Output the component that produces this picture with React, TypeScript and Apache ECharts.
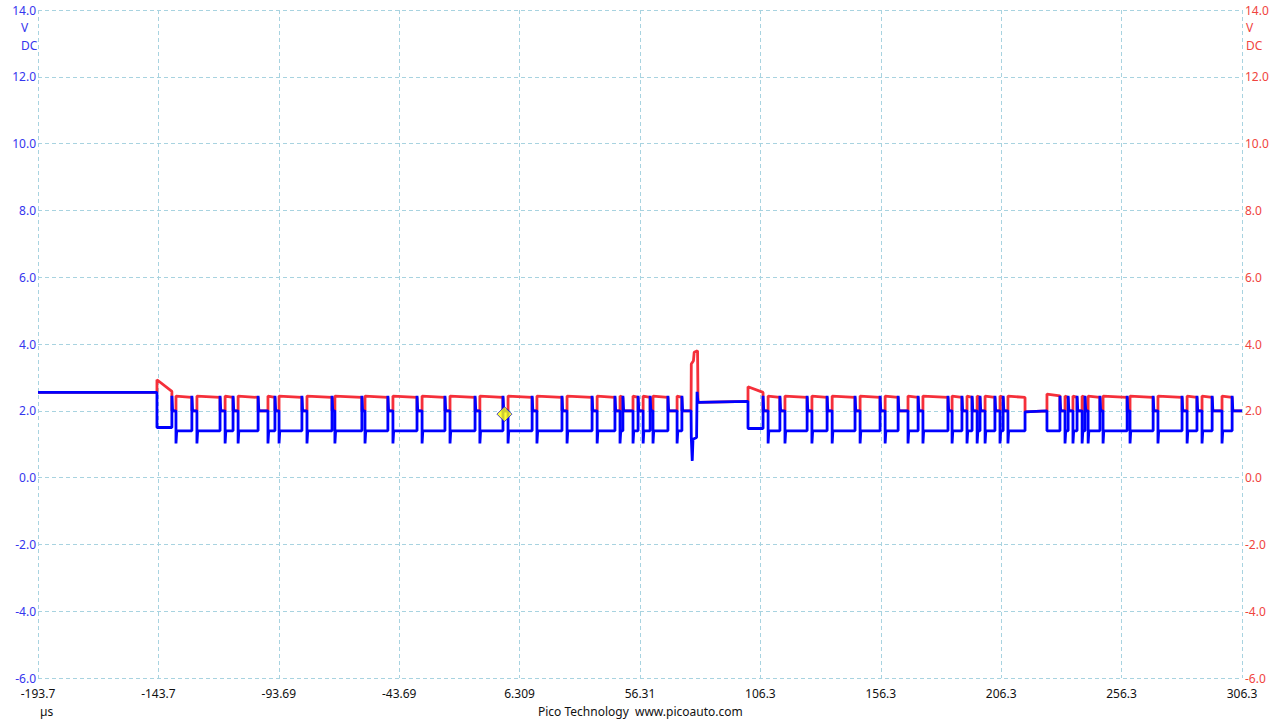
import React, { useEffect, useRef } from "react";
import * as echarts from "echarts";

// ---- axes ----
const T0 = -193.7; // µs at left edge of the screen
const T1 = 306.3; // µs at right edge
const xTickLabels = ["-193.7", "-143.7", "-93.69", "-43.69", "6.309", "56.31", "106.3", "156.3", "206.3", "256.3", "306.3"];
const yMin = -6;
const yMax = 14;
const yStep = 2;

// ---- signal levels (V) ----
const redDominant = [2.44, 2.4]; // start / end of each high stretch
const redRecessive = 2.0;
const blueDominant = 1.4;
const blueRecessive = 2.0;
const blueUpSpike = 2.45;
const blueDownSpike = 1.02;
const spikeWidth = 0.3; // µs

// ---- idle stretches [start µs, end µs, start V, end V] ----
const idle0 = [T0, -144.3, 2.55, 2.55];
const idle1 = [80.4, 101.15, 2.25, 2.28];
const idle2 = [216.2, 225.3, 1.97, 2.0];

// ---- bursts: start/end µs, recessive pulses [start, end] µs ----
const burst1Start = -144.3;
const burst1End = 77.5;
const burst1RedFirst = [2.93, 2.58];
const burst1BlueFirst = 1.5;
const burst1Pulses = [
  [-138.1, -136.4], [-129.8, -127.7], [-118.1, -116.0], [-112.7, -110.6], [-102.3, -98.2],
  [-95.3, -93.6], [-84.1, -82.0], [-71.6, -70.4], [-59.2, -57.9], [-48.4, -46.3],
  [-36.3, -34.2], [-24.7, -22.6], [-12.2, -10.2], [-0.6, 1.5], [11.5, 13.5],
  [23.9, 26.0], [36.4, 38.5], [45.9, 48.0], [49.2, 53.4], [55.5, 57.6],
  [60.5, 61.7], [67.9, 71.7], [73.7, 77.5],
];

const anomalyRed = [[77.5, 2.0], [77.6, 3.4], [78.5, 3.5], [78.8, 3.75], [80.2, 3.8], [80.4, 2.25]];
const anomalyBlue = [[77.5, 2.0], [77.6, 1.2], [78.0, 0.5], [78.3, 1.15], [79.8, 1.2], [80.0, 2.57], [80.4, 2.25]];

const burst2Start = 101.15;
const burst2End = 216.2;
const burst2RedFirst = [2.72, 2.55];
const burst2BlueFirst = 1.47;
const burst2Pulses = [
  [107.4, 109.5], [114.4, 116.5], [125.7, 127.7], [134.0, 136.1], [145.6, 147.7],
  [156.0, 158.1], [163.5, 167.6], [171.8, 173.8], [184.2, 185.9], [190.0, 192.1],
  [194.2, 196.3], [197.5, 199.6], [203.7, 205.8], [207.1, 209.1],
];

const burst3Start = 225.3;
const burst3End = 306.3;
const burst3RedFirst = [2.5, 2.45];
const burst3BlueFirst = 1.4;
const burst3Pulses = [
  [230.7, 232.8], [234.1, 236.1], [237.8, 239.9], [241.1, 242.4], [247.3, 248.6],
  [258.6, 259.8], [269.4, 271.4], [281.4, 283.5], [287.6, 289.7], [293.9, 298.0],
  [302.2, 306.3],
];

// trigger marker
const triggerPoint = [0.0, 1.9];

function buildBurst(start: number, end: number, pulses: number[][], redFirst: number[], blueFirst: number) {
  const red: number[][] = [];
  const blue: number[][] = [];
  let segStart = start;
  let first = true;
  const addDominant = (a: number, b: number) => {
    const r = first ? redFirst : redDominant;
    red.push([a, r[0]], [b, r[1]]);
    if (first) {
      blue.push([a, blueFirst], [b, blueFirst]);
    } else {
      blue.push([a, blueDownSpike], [a + spikeWidth, blueDominant], [b, blueDominant]);
    }
    first = false;
  };
  for (const [a, b] of pulses) {
    addDominant(segStart, a);
    red.push([a, redRecessive], [b, redRecessive]);
    blue.push([a, blueUpSpike], [a + spikeWidth, blueRecessive], [b, blueRecessive]);
    segStart = b;
  }
  if (end > segStart + 1e-6) addDominant(segStart, end);
  return { red, blue };
}

function idlePts(s: number[]) {
  return [[s[0], s[2]], [s[1], s[3]]];
}

function buildTraces() {
  const b1 = buildBurst(burst1Start, burst1End, burst1Pulses, burst1RedFirst, burst1BlueFirst);
  const b2 = buildBurst(burst2Start, burst2End, burst2Pulses, burst2RedFirst, burst2BlueFirst);
  const b3 = buildBurst(burst3Start, burst3End, burst3Pulses, burst3RedFirst, burst3BlueFirst);
  const red = [
    ...idlePts(idle0), ...b1.red, ...anomalyRed, ...idlePts(idle1), ...b2.red, ...idlePts(idle2), ...b3.red,
  ];
  const blue = [
    ...idlePts(idle0), ...b1.blue, ...anomalyBlue, ...idlePts(idle1), ...b2.blue, ...idlePts(idle2), ...b3.blue,
  ];
  const shift = (p: number[]) => [p[0] - T0, p[1]];
  return { red: red.map(shift), blue: blue.map(shift) };
}

const FONT = "'Noto Sans', 'Open Sans', sans-serif";
const LEFT_COLOR = "#3535ee";
const RIGHT_COLOR = "#f04440";
const GRID_COLOR = "#a8d3e0";

export default function App() {
  const ref = useRef<HTMLDivElement>(null);
  useEffect(() => {
    if (!ref.current) return;
    const chart = echarts.init(ref.current, undefined, { renderer: "svg" });
    const { red, blue } = buildTraces();
    const splitLine = { show: true, lineStyle: { color: GRID_COLOR, type: [4, 3] as any, width: 1 } };
    const yCommon = {
      type: "value" as const,
      min: yMin,
      max: yMax,
      interval: yStep,
      axisLine: { show: false },
      axisTick: { show: false },
    };
    chart.setOption({
      animation: false,
      backgroundColor: "#ffffff",
      grid: { left: 38, right: 38, top: 10, bottom: 42, containLabel: false },
      xAxis: {
        type: "value",
        min: 0,
        max: T1 - T0,
        interval: 50,
        axisLine: { show: false },
        axisTick: { show: false },
        splitLine,
        axisLabel: {
          color: "#111",
          fontFamily: FONT,
          fontSize: 12,
          margin: 9,
          showMinLabel: true,
          showMaxLabel: true,
          formatter: (v: number) => xTickLabels[Math.round(v / 50)] ?? "",
        },
      },
      yAxis: [
        {
          ...yCommon,
          position: "left",
          splitLine,
          axisLabel: { color: LEFT_COLOR, fontFamily: FONT, fontSize: 12, margin: 2, formatter: (v: number) => v.toFixed(1) },
        },
        {
          ...yCommon,
          position: "right",
          splitLine: { show: false },
          axisLabel: { color: RIGHT_COLOR, fontFamily: FONT, fontSize: 12, margin: 3, formatter: (v: number) => v.toFixed(1) },
        },
      ],
      series: [
        {
          type: "line",
          data: red,
          showSymbol: false,
          symbol: "none",
          yAxisIndex: 1,
          lineStyle: { color: "#f52f3a", width: 2.8 },
          z: 2,
        },
        {
          type: "line",
          data: blue,
          showSymbol: false,
          symbol: "none",
          yAxisIndex: 0,
          lineStyle: { color: "#0000ff", width: 2.8 },
          z: 3,
        },
        {
          type: "scatter",
          data: [[triggerPoint[0] - T0, triggerPoint[1]]],
          symbol: "diamond",
          symbolSize: [15, 15],
          itemStyle: { color: "#ffff00", borderColor: "#2020c0", borderWidth: 1 },
          z: 5,
        },
      ],
      graphic: [
        { type: "text", left: 21, top: 21, style: { text: "V", fill: LEFT_COLOR, font: `12px ${FONT}` } },
        { type: "text", left: 21, top: 39, style: { text: "DC", fill: LEFT_COLOR, font: `12px ${FONT}` } },
        { type: "text", left: 1246, top: 21, style: { text: "V", fill: RIGHT_COLOR, font: `12px ${FONT}` } },
        { type: "text", left: 1246, top: 39, style: { text: "DC", fill: RIGHT_COLOR, font: `12px ${FONT}` } },
        { type: "text", left: 40, top: 705, style: { text: "µs", fill: "#111", font: `12px ${FONT}` } },
        { type: "text", left: 538, top: 705, style: { text: "Pico Technology", fill: "#111", font: `12px ${FONT}` } },
        { type: "text", left: 635, top: 705, style: { text: "www.picoauto.com", fill: "#111", font: `12px ${FONT}` } },
      ],
    });
    return () => chart.dispose();
  }, []);
  return (
    <div
      ref={ref}
      style={{ position: "fixed", left: 0, top: 0, width: 1280, height: 720, background: "#fff" }}
    />
  );
}
